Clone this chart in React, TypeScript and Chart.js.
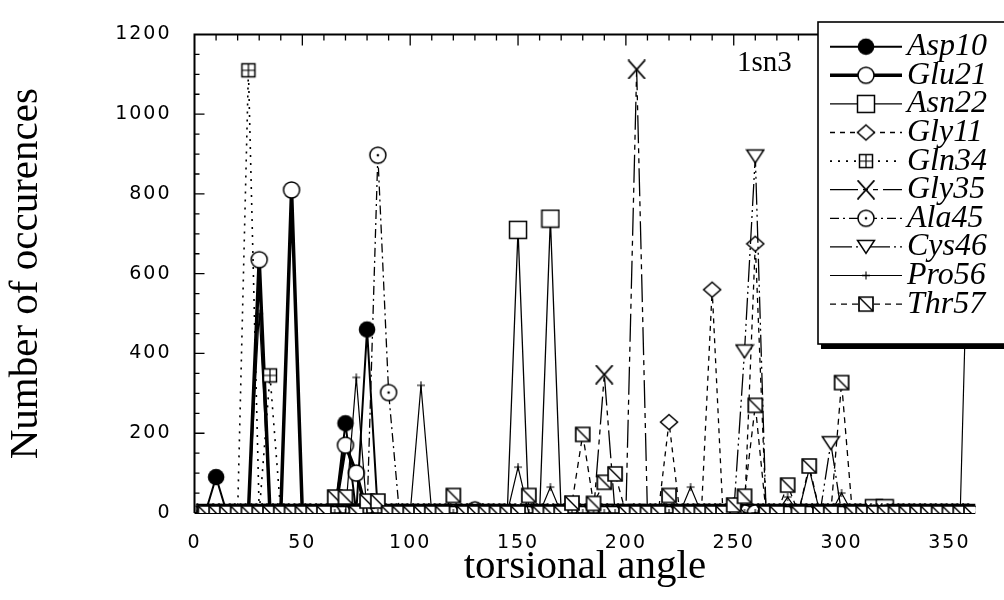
import React, { useEffect, useRef } from 'react';
import { Chart, registerables } from 'chart.js';

Chart.register(...registerables);

const angles = [
  5, 10, 15, 20, 25, 30, 35, 40, 45, 50, 55, 60,
  65, 70, 75, 80, 85, 90, 95, 100, 105, 110, 115, 120,
  125, 130, 135, 140, 145, 150, 155, 160, 165, 170, 175, 180,
  185, 190, 195, 200, 205, 210, 215, 220, 225, 230, 235, 240,
  245, 250, 255, 260, 265, 270, 275, 280, 285, 290, 295, 300,
  305, 310, 315, 320, 325, 330, 335, 340, 345, 350, 355, 360,
];

const asp10 = [
  0, 90, 0, 0, 0, 0, 0, 0, 0, 0, 0, 0,
  0, 225, 0, 460, 0, 0, 0, 0, 0, 0, 0, 0,
  0, 0, 0, 0, 0, 0, 0, 0, 0, 0, 0, 0,
  0, 0, 0, 0, 0, 0, 0, 0, 0, 0, 0, 0,
  0, 0, 0, 0, 0, 0, 0, 0, 0, 0, 0, 0,
  0, 0, 0, 0, 0, 0, 0, 0, 0, 0, 0, 0,
];
const glu21 = [
  0, 0, 0, 0, 0, 635, 0, 0, 810, 0, 0, 0,
  0, 170, 100, 0, 0, 0, 0, 0, 0, 0, 0, 0,
  0, 8, 0, 0, 0, 0, 0, 0, 0, 0, 0, 0,
  0, 0, 0, 0, 0, 0, 0, 0, 0, 0, 0, 0,
  0, 0, 0, 0, 0, 0, 0, 0, 0, 0, 0, 0,
  0, 0, 0, 0, 0, 0, 0, 0, 0, 0, 0, 0,
];
const asn22 = [
  0, 0, 0, 0, 0, 0, 0, 0, 0, 0, 0, 0,
  0, 0, 0, 0, 0, 0, 0, 0, 0, 0, 0, 0,
  0, 0, 0, 0, 0, 710, 0, 0, 738, 0, 0, 0,
  0, 0, 0, 0, 0, 0, 0, 0, 0, 0, 0, 0,
  0, 0, 0, 0, 0, 0, 0, 0, 0, 0, 0, 0,
  0, 0, 12, 12, 0, 0, 0, 0, 0, 0, 0, 0,
];
const gly11 = [
  0, 0, 0, 0, 0, 0, 0, 0, 0, 0, 0, 0,
  0, 0, 0, 0, 0, 0, 0, 0, 0, 0, 0, 0,
  0, 0, 0, 0, 0, 0, 0, 0, 0, 0, 0, 0,
  0, 0, 0, 0, 0, 0, 0, 228, 0, 0, 0, 560,
  0, 0, 0, 675, 0, 0, 0, 0, 0, 0, 0, 0,
  0, 0, 0, 0, 0, 0, 0, 0, 0, 0, 0, 0,
];
const gln34 = [
  0, 0, 0, 0, 1110, 0, 345, 0, 0, 0, 0, 0,
  0, 0, 0, 0, 0, 0, 0, 0, 0, 0, 0, 0,
  0, 0, 0, 0, 0, 0, 0, 0, 0, 0, 0, 0,
  0, 0, 0, 0, 0, 0, 0, 0, 0, 0, 0, 0,
  0, 0, 0, 0, 0, 0, 0, 0, 0, 0, 0, 0,
  0, 0, 0, 0, 0, 0, 0, 0, 0, 0, 0, 0,
];
const gly35 = [
  0, 0, 0, 0, 0, 0, 0, 0, 0, 0, 0, 0,
  0, 0, 0, 0, 0, 0, 0, 0, 0, 0, 0, 0,
  0, 0, 0, 0, 0, 0, 0, 0, 0, 0, 0, 0,
  0, 347, 0, 0, 1112, 0, 0, 0, 0, 0, 0, 0,
  0, 0, 0, 0, 0, 0, 0, 0, 0, 0, 0, 0,
  0, 0, 0, 0, 0, 0, 0, 0, 0, 0, 0, 0,
];
const ala45 = [
  0, 0, 0, 0, 0, 0, 0, 0, 0, 0, 0, 0,
  0, 0, 0, 0, 897, 302, 0, 0, 0, 0, 0, 0,
  0, 0, 0, 0, 0, 0, 0, 0, 0, 0, 0, 0,
  0, 0, 0, 0, 0, 0, 0, 0, 0, 0, 0, 0,
  0, 0, 0, 0, 0, 0, 0, 0, 0, 0, 0, 0,
  0, 0, 0, 0, 0, 0, 0, 0, 0, 0, 0, 0,
];
const cys46 = [
  0, 0, 0, 0, 0, 0, 0, 0, 0, 0, 0, 0,
  0, 0, 0, 0, 0, 0, 0, 0, 0, 0, 0, 0,
  0, 0, 0, 0, 0, 0, 0, 0, 0, 0, 0, 0,
  0, 0, 0, 0, 0, 0, 0, 0, 0, 0, 0, 0,
  0, 0, 405, 894, 0, 0, 0, 0, 0, 0, 175, 0,
  0, 0, 0, 0, 0, 0, 0, 0, 0, 0, 0, 0,
];
const pro56 = [
  0, 0, 0, 0, 0, 500, 0, 0, 0, 0, 0, 0,
  0, 0, 340, 0, 0, 0, 0, 0, 320, 0, 0, 0,
  0, 0, 0, 0, 0, 115, 0, 0, 65, 0, 0, 0,
  0, 0, 0, 0, 0, 0, 0, 0, 0, 65, 0, 0,
  0, 30, 0, 0, 0, 0, 40, 0, 110, 0, 0, 50,
  0, 0, 0, 0, 0, 0, 0, 0, 0, 0, 0, 1000,
];
const thr57 = [
  0, 0, 0, 0, 0, 0, 0, 0, 0, 0, 0, 0,
  40, 40, 0, 30, 30, 0, 0, 0, 0, 0, 0, 44,
  0, 0, 0, 0, 0, 0, 44, 0, 0, 0, 25, 197,
  24, 77, 98, 0, 0, 0, 0, 44, 0, 0, 0, 0,
  0, 20, 42, 270, 0, 0, 70, 0, 118, 0, 0, 327,
  0, 0, 0, 0, 0, 0, 0, 0, 0, 0, 0, 0,
];

const seriesNames = ['Asp10', 'Glu21', 'Asn22', 'Gly11', 'Gln34', 'Gly35', 'Ala45', 'Cys46', 'Pro56', 'Thr57'];
const seriesValues = [asp10, glu21, asn22, gly11, gln34, gly35, ala45, cys46, pro56, thr57];
const seriesMarkers = ['filledCircle', 'openCircle', 'openSquare', 'diamond', 'squarePlus', 'cross', 'dotCircle', 'downTriangle', 'plus', 'hatchSquare'];
const seriesWidths = [2, 3.5, 1.3, 1.3, 1.6, 1.3, 1.3, 1.3, 1.2, 1.3];
const seriesDashes: number[][] = [[], [], [], [5, 5], [2, 6], [28, 5, 5, 5, 5, 5], [9, 4, 2, 4], [22, 4, 2, 4, 2, 4], [], [6, 5]];

const xTicks = [0, 50, 100, 150, 200, 250, 300, 350];
const yTicks = [0, 200, 400, 600, 800, 1000, 1200];
const xTitle = 'torsional angle';
const yTitle = 'Number of occurences';
const plotLabel = '1sn3';

function makeMarker(kind: string): HTMLCanvasElement {
  const c = document.createElement('canvas');
  const size = 20;
  c.width = size;
  c.height = size;
  const g = c.getContext('2d') as CanvasRenderingContext2D;
  g.strokeStyle = '#000';
  g.fillStyle = '#fff';
  g.lineWidth = 1.5;
  g.beginPath();
  switch (kind) {
    case 'filledCircle':
      g.arc(10, 10, 8.3, 0, Math.PI * 2);
      g.fillStyle = '#000';
      g.fill();
      break;
    case 'openCircle':
      g.arc(10, 10, 8, 0, Math.PI * 2);
      g.fill();
      g.stroke();
      break;
    case 'openSquare':
      g.rect(1.5, 1.5, 17, 17);
      g.fill();
      g.stroke();
      break;
    case 'diamond':
      g.moveTo(10, 2.5);
      g.lineTo(18.5, 10);
      g.lineTo(10, 17.5);
      g.lineTo(1.5, 10);
      g.closePath();
      g.fill();
      g.stroke();
      break;
    case 'squarePlus':
      g.rect(3.5, 3.5, 13, 13);
      g.fill();
      g.stroke();
      g.beginPath();
      g.lineWidth = 1.2;
      g.moveTo(10, 3.5);
      g.lineTo(10, 16.5);
      g.moveTo(3.5, 10);
      g.lineTo(16.5, 10);
      g.stroke();
      break;
    case 'cross':
      g.lineWidth = 1.8;
      g.moveTo(1.5, 0.5);
      g.lineTo(18.5, 19.5);
      g.moveTo(18.5, 0.5);
      g.lineTo(1.5, 19.5);
      g.stroke();
      break;
    case 'dotCircle':
      g.arc(10, 10, 8, 0, Math.PI * 2);
      g.fill();
      g.stroke();
      g.beginPath();
      g.arc(10, 10, 1.3, 0, Math.PI * 2);
      g.fillStyle = '#000';
      g.fill();
      break;
    case 'downTriangle':
      g.moveTo(1.5, 3.5);
      g.lineTo(18.5, 3.5);
      g.lineTo(10, 16.5);
      g.closePath();
      g.fill();
      g.stroke();
      break;
    case 'plus':
      g.lineWidth = 1.1;
      g.moveTo(10, 6);
      g.lineTo(10, 14);
      g.moveTo(6, 10);
      g.lineTo(14, 10);
      g.stroke();
      break;
    case 'hatchSquare':
      g.rect(3, 3, 14, 14);
      g.fill();
      g.lineWidth = 1.7;
      g.stroke();
      g.beginPath();
      g.lineWidth = 1.4;
      g.moveTo(3, 3);
      g.lineTo(17, 17);
      g.stroke();
      break;
  }
  return c;
}

export default function App() {
  const ref = useRef<HTMLCanvasElement | null>(null);

  useEffect(() => {
    const canvas = ref.current;
    if (!canvas) return;
    const markers = seriesMarkers.map(makeMarker);

    const datasets = seriesNames.map((name, i) => ({
      label: name,
      data: angles.map((a, j) => ({ x: a, y: seriesValues[i][j] })),
      borderColor: '#000',
      backgroundColor: '#fff',
      borderWidth: seriesWidths[i],
      borderDash: seriesDashes[i],
      pointStyle: markers[i],
      pointRadius: 8,
      pointHoverRadius: 8,
      tension: 0,
      fill: false,
      order: 9 - i,
    }));

    const framePlugin = {
      id: 'frame',
      beforeDatasetsDraw(chart: any) {
        const { ctx, chartArea, scales } = chart;
        const { left, top, right, bottom } = chartArea;
        ctx.save();
        ctx.strokeStyle = '#000';
        ctx.lineWidth = 2;
        ctx.beginPath();
        ctx.moveTo(left, bottom);
        ctx.lineTo(left, top);
        ctx.lineTo(right, top);
        ctx.moveTo(left, bottom);
        ctx.lineTo(right, bottom);
        ctx.stroke();
        ctx.lineWidth = 1.3;
        ctx.beginPath();
        for (let v = 50; v < 1200; v += 50) {
          const py = scales.y.getPixelForValue(v);
          const len = v % 200 === 0 ? 10 : 5;
          ctx.moveTo(left, py);
          ctx.lineTo(left + len, py);
        }
        for (let v = 10; v <= 360; v += 10) {
          const px = scales.x.getPixelForValue(v);
          const len = v % 50 === 0 ? 11 : 6;
          ctx.moveTo(px, top);
          ctx.lineTo(px, top + len);
        }
        ctx.stroke();
        ctx.restore();
      },
      afterDatasetsDraw(chart: any) {
        (chart.ctx as any).letterSpacing = '2px';
      },
      afterDraw(chart: any) {
        const ctx = chart.ctx as CanvasRenderingContext2D;
        (ctx as any).letterSpacing = '0px';
        ctx.save();
        ctx.fillStyle = '#000';
        ctx.font = '29px "Liberation Serif"';
        ctx.textBaseline = 'alphabetic';
        ctx.textAlign = 'left';
        ctx.fillText(plotLabel, 737, 71);

        const bx = 818;
        const by = 22;
        const bw = 200;
        const bh = 322;
        ctx.fillStyle = '#fff';
        ctx.fillRect(bx, by, bw, bh);
        ctx.strokeStyle = '#000';
        ctx.lineWidth = 1.6;
        ctx.strokeRect(bx, by, bw, bh);
        ctx.fillStyle = '#000';
        ctx.fillRect(bx + 3, by + bh, bw, 5);

        chart.data.datasets.forEach((ds: any, i: number) => {
          const ry = 46.7 + 28.6 * i;
          ctx.save();
          ctx.strokeStyle = '#000';
          ctx.lineWidth = ds.borderWidth;
          ctx.setLineDash(ds.borderDash || []);
          ctx.beginPath();
          ctx.moveTo(830, ry);
          ctx.lineTo(902, ry);
          ctx.stroke();
          ctx.restore();
          const m = ds.pointStyle as HTMLCanvasElement;
          ctx.drawImage(m, 866 - m.width / 2, ry - m.height / 2);
          ctx.fillStyle = '#000';
          ctx.font = 'italic 32px "Liberation Serif"';
          ctx.textAlign = 'left';
          ctx.textBaseline = 'alphabetic';
          ctx.fillText(ds.label, 907, ry + 8.5);
        });
        ctx.restore();
      },
    };

    const chart = new Chart(canvas, {
      type: 'line',
      data: { datasets: datasets as any },
      options: {
        animation: false,
        responsive: false,
        maintainAspectRatio: false,
        layout: { padding: { top: 24.6, left: 0, right: 28.7, bottom: 0 } },
        plugins: {
          legend: { display: false },
          tooltip: { enabled: false },
        },
        scales: {
          x: {
            type: 'linear',
            min: 0,
            max: 362,
            afterBuildTicks: (s: any) => {
              s.ticks = xTicks.map((v) => ({ value: v }));
            },
            afterFit: (s: any) => {
              s.height = 87;
            },
            grid: { display: false, drawTicks: false },
            border: { display: false },
            ticks: {
              color: '#000',
              font: { family: 'DejaVu Sans', size: 19 },
              padding: 19,
              maxRotation: 0,
              autoSkip: false,
              z: 1,
              callback: (v: any) => String(v),
            },
            title: {
              display: true,
              text: xTitle,
              color: '#000',
              font: { family: 'Liberation Serif', size: 41 },
              padding: { top: 0, bottom: 8.4 },
            },
          },
          y: {
            type: 'linear',
            min: 0,
            max: 1200,
            afterBuildTicks: (s: any) => {
              s.ticks = yTicks.map((v) => ({ value: v }));
            },
            afterFit: (s: any) => {
              s.width = 194.5;
            },
            grid: { display: false, drawTicks: false },
            border: { display: false },
            ticks: {
              color: '#000',
              font: { family: 'DejaVu Sans', size: 19 },
              padding: 23,
              z: 1,
              callback: (v: any) => String(v),
            },
            title: {
              display: true,
              text: yTitle,
              color: '#000',
              font: { family: 'Liberation Serif', size: 41 },
              padding: { top: 1.4, bottom: 0 },
            },
          },
        },
      },
      plugins: [framePlugin],
    });

    return () => {
      chart.destroy();
    };
  }, []);

  return (
    <div
      style={{
        position: 'fixed',
        left: 0,
        top: 0,
        width: 1004,
        height: 600,
        overflow: 'hidden',
        background: '#fff',
      }}
    >
      <canvas ref={ref} width={1004} height={600} style={{ display: 'block' }} />
    </div>
  );
}
